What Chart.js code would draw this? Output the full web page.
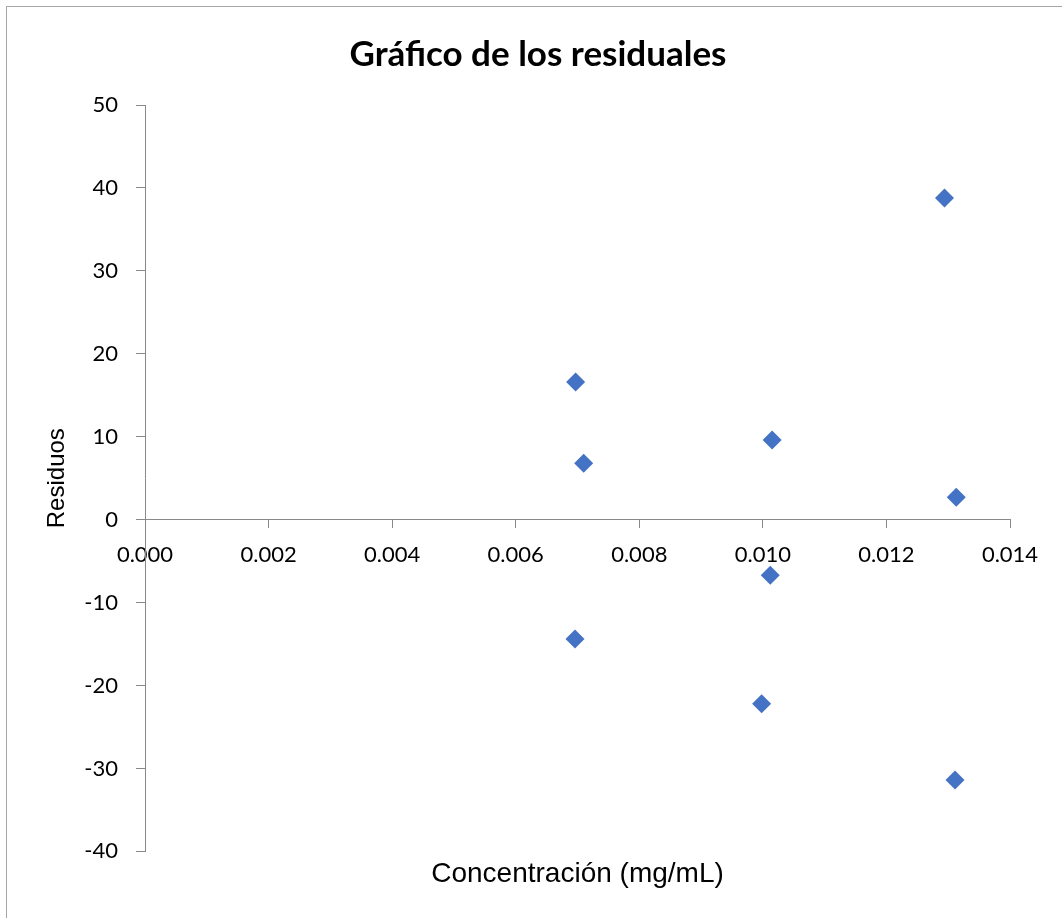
<!DOCTYPE html>
<html>
<head>
<meta charset="utf-8">
<script src="https://cdn.jsdelivr.net/npm/chart.js@4"></script>
<style>
    body { margin: 0; background: #fff; overflow: hidden; }
    #frame { position: absolute; left: 6px; top: 6px; width: 1100px; height: 1000px;
             border-left: 1px solid #a6a6a6; border-top: 1px solid #a6a6a6; }
    #myChart { position: absolute; left: 0; top: 0; }
</style>
</head>
<body>
<div id="frame"></div>
<canvas id="myChart" width="1062" height="918"></canvas>
<script>
// concentracion (mg/mL) y residuos
let concentracion = [0.00697, 0.00710, 0.00696, 0.01015, 0.01012, 0.00998, 0.01294, 0.01313, 0.01311]
let residuos = [16.6, 6.8, -14.4, 9.6, -6.7, -22.2, 38.8, 2.7, -31.4]

let titulo = "Gráfico de los residuales"
let tituloX = "Concentración (mg/mL)"
let tituloY = "Residuos"

let puntos = []
for (let i = 0; i < concentracion.length; i++) {
    puntos.push({ x: concentracion[i], y: residuos[i] })
}

let gris = "#898989"
let calibri = "Lato"
let arial = "'Liberation Sans', Arial"

let ctx = document.getElementById("myChart").getContext("2d");

let config = {
    type: "scatter",
    data: {
        datasets: [{
            data: puntos,
            pointStyle: "rectRot",
            pointRadius: 9.5,
            pointBackgroundColor: "#4472C4",
            pointBorderColor: "#4472C4",
            pointBorderWidth: 0,
        }],
    },
    options: {
        responsive: false,
        animation: false,
        layout: {
            // left/right padding keeps the title centred like the original
            padding: { left: 66, right: 52, top: 0, bottom: 0 },
        },
        plugins: {
            legend: { display: false },
            tooltip: { enabled: false },
            title: {
                display: true,
                text: titulo,
                color: "#000",
                font: { family: calibri, size: 35, weight: "bold" },
                padding: { top: 34, bottom: 29 },
            },
            subtitle: {
                display: true,
                position: "bottom",
                fullSize: false,
                text: tituloX,
                color: "#000",
                font: { family: arial, size: 28 },
                padding: { top: 6, bottom: 27 },
            },
        },
        scales: {
            x: {
                type: "linear",
                position: { y: 0 },
                min: 0,
                max: 0.014,
                border: { color: gris, width: 1 },
                grid: { drawOnChartArea: false, drawTicks: true, tickLength: 8, color: gris },
                ticks: {
                    stepSize: 0.002,
                    padding: 14,
                    color: "#000",
                    font: { family: calibri, size: 22 },
                    callback: function (value) {
                        return value.toFixed(3);
                    },
                },
            },
            y: {
                type: "linear",
                position: "left",
                min: -40,
                max: 50,
                border: { color: gris, width: 1 },
                grid: { drawOnChartArea: false, drawTicks: true, tickLength: 9, color: gris },
                ticks: {
                    stepSize: 10,
                    padding: 18,
                    color: "#000",
                    font: { family: calibri, size: 22 },
                },
                title: {
                    display: true,
                    text: tituloY,
                    color: "#000",
                    font: { family: arial, size: 24 },
                    padding: { top: -23, bottom: 0 },
                },
                afterFit: function (scale) {
                    scale.width = 79;
                },
            },
        },
    },
};

let myChart = new Chart(ctx, config)
</script>
</body>
</html>
